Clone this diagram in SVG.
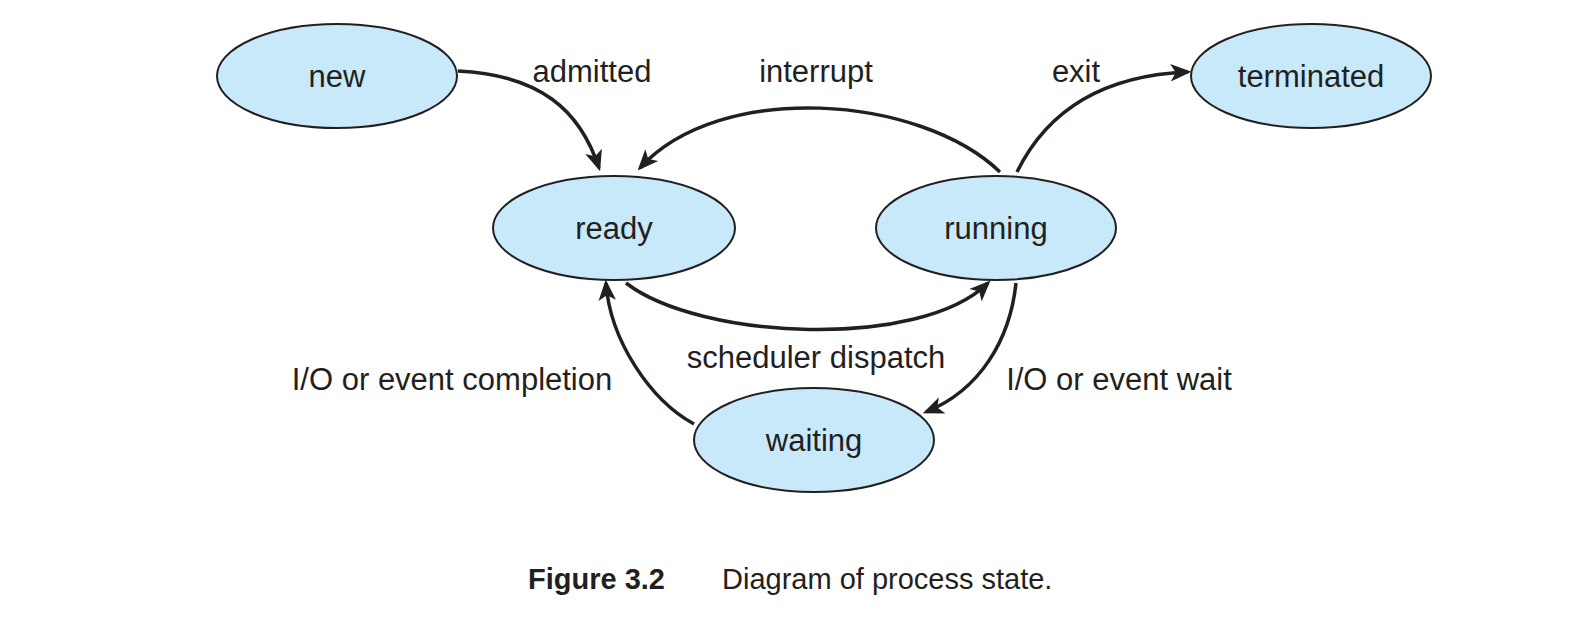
<svg xmlns="http://www.w3.org/2000/svg" width="1575" height="638" viewBox="0 0 1575 638">
<style>
.n{fill:#c8e9f9;stroke:#231f20;stroke-width:2}
.t{font-family:"Liberation Sans",Arial,sans-serif;font-size:31px;fill:#231f20;text-anchor:middle}
.c path{fill:none;stroke:#231f20;stroke-width:3.5;marker-end:url(#a)}
</style>
<defs><marker id="a" markerWidth="6" markerHeight="6" refX="5" refY="3" orient="auto"><path d="M0,0.5 L6,3 L0,5.5 L1.5,3 Z" fill="#231f20" stroke="none"/></marker></defs>
<rect width="1575" height="638" fill="#fff"/>
<g class="c">
<path d="M458,71 C540,75 580,110 599,168"/>
<path d="M1000,172 C920,95 720,80 640,168"/>
<path d="M1017,172 C1050,105 1110,75 1188,72"/>
<path d="M626,283 C700,340 920,350 988,283"/>
<path d="M1016,283 C1010,340 980,390 926,412"/>
<path d="M694,424 C650,400 610,340 606,283"/>
</g>
<g id="new"><ellipse class="n" cx="337" cy="76" rx="120" ry="52"/><text class="t" x="337" y="87">new</text></g>
<g id="terminated"><ellipse class="n" cx="1311" cy="76" rx="120" ry="52"/><text class="t" x="1311" y="87">terminated</text></g>
<g id="ready"><ellipse class="n" cx="614" cy="228" rx="121" ry="52"/><text class="t" x="614" y="239">ready</text></g>
<g id="running"><ellipse class="n" cx="996" cy="228" rx="120" ry="52"/><text class="t" x="996" y="239">running</text></g>
<g id="waiting"><ellipse class="n" cx="814" cy="440" rx="120" ry="52"/><text class="t" x="814" y="451">waiting</text></g>
<g class="t">
<text x="592" y="82">admitted</text>
<text x="816" y="82">interrupt</text>
<text x="1076" y="82">exit</text>
<text x="816" y="368">scheduler dispatch</text>
<text x="452" y="390">I/O or event completion</text>
<text x="1119" y="390">I/O or event wait</text>
</g>
<text y="589" font-family="Liberation Sans,Arial,sans-serif" font-size="29" fill="#231f20"><tspan x="528" font-weight="bold">Figure 3.2</tspan><tspan x="722">Diagram of process state.</tspan></text>
</svg>
